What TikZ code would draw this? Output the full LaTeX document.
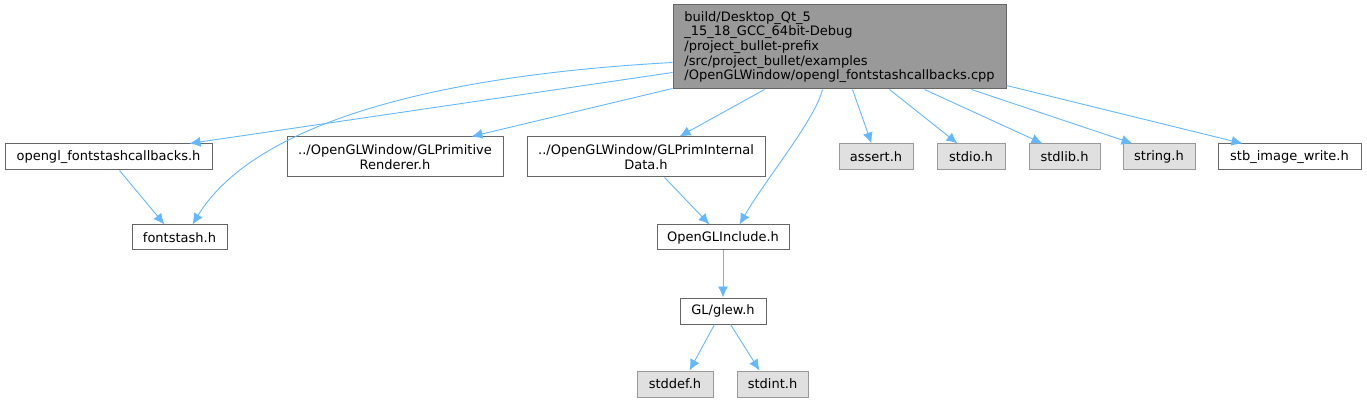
\documentclass[tikz,border=0pt]{standalone}
\usepackage{fontspec}
\setmainfont{DejaVu Sans}
\usetikzlibrary{arrows.meta}
\definecolor{edgeblue}{HTML}{63B8FF}
\definecolor{topfill}{HTML}{999999}
\definecolor{topdraw}{HTML}{666666}
\definecolor{sysfill}{HTML}{E0E0E0}
\definecolor{sysdraw}{HTML}{999999}
\tikzset{
  box/.style={draw=topdraw, fill=white, line width=1pt, inner sep=0pt, align=center,
    font=\fontsize{13}{14.7}\selectfont},
  sysbox/.style={box, draw=sysdraw, fill=sysfill},
  mainbox/.style={box, fill=topfill, draw=topdraw, align=left},
  dep/.style={draw=edgeblue, line width=0.9pt, -{Latex[length=11pt,width=10pt]}},
}
\begin{document}
\begin{tikzpicture}[x=1pt,y=-1pt]
\useasboundingbox (0,0) rectangle (1367,403);
\node[mainbox, minimum width=333pt, minimum height=84pt] (top) at (839.5,47)
  {build/Desktop\_Qt\_5\\\_15\_18\_GCC\_64bit-Debug\\/project\_bullet-prefix\\/src/project\_bullet/examples\\/OpenGLWindow/opengl\_fontstashcallbacks.cpp};
\node[box, minimum width=207pt, minimum height=26pt] (ofc) at (108.5,157) {opengl\_fontstashcallbacks.h};
\node[box, minimum width=95pt, minimum height=25pt] (fs) at (179.5,237.5) {fontstash.h};
\node[box, minimum width=216pt, minimum height=40pt] (glpr) at (395,157) {../OpenGLWindow/GLPrimitive\\Renderer.h};
\node[box, minimum width=238pt, minimum height=40pt] (glpid) at (646,157) {../OpenGLWindow/GLPrimInternal\\Data.h};
\node[box, minimum width=132pt, minimum height=25pt] (ogli) at (723,237.5) {OpenGLInclude.h};
\node[sysbox, minimum width=74pt, minimum height=26pt] (assert) at (876,157) {assert.h};
\node[sysbox, minimum width=68pt, minimum height=26pt] (stdio) at (971,157) {stdio.h};
\node[sysbox, minimum width=71pt, minimum height=26pt] (stdlib) at (1064.5,157) {stdlib.h};
\node[sysbox, minimum width=72pt, minimum height=26pt] (string) at (1159,157) {string.h};
\node[box, minimum width=143pt, minimum height=26pt] (stb) at (1289.5,157) {stb\_image\_write.h};
\node[box, minimum width=86pt, minimum height=26pt] (glew) at (723,311) {GL/glew.h};
\node[sysbox, minimum width=76pt, minimum height=26pt] (stddef) at (675,384) {stddef.h};
\node[sysbox, minimum width=71pt, minimum height=26pt] (stdint) at (772.5,384) {stdint.h};

\draw[dep] ([yshift=-68pt]top.north west) -- ([xshift=185pt]ofc.north west);
\draw[dep] ([yshift=-58pt]top.north west) .. controls (390,78) and (245,138) .. ([xshift=61pt]fs.north west);
\draw[dep] ([yshift=1pt]top.south west) -- ([xshift=185pt]glpr.north west);
\draw[dep] ([xshift=92pt]top.south west) -- ([xshift=153pt]glpid.north west);
\draw[dep] ([xshift=150pt]top.south west) .. controls (815,120) and (765,180) .. ([xshift=83pt]ogli.north west);
\draw[dep] ([xshift=180pt]top.south west) -- ([xshift=33pt]assert.north west);
\draw[dep] ([xshift=217pt]top.south west) -- ([xshift=21pt]stdio.north west);
\draw[dep] ([xshift=252pt]top.south west) -- ([xshift=14pt]stdlib.north west);
\draw[dep] ([xshift=299pt]top.south west) -- ([xshift=10pt]string.north west);
\draw[dep] ([yshift=-81pt]top.north east) -- ([xshift=25pt]stb.north west);
\draw[dep] ([xshift=115pt]ofc.south west) -- ([xshift=33pt]fs.north west);
\draw[dep] ([xshift=138pt]glpid.south west) -- ([xshift=53pt]ogli.north west);
\draw[dep] (ogli.south) -- (glew.north);
\draw[dep] ([xshift=35pt]glew.south west) -- ([xshift=53pt]stddef.north west);
\draw[dep] ([xshift=51pt]glew.south west) -- ([xshift=23pt]stdint.north west);
\end{tikzpicture}
\end{document}
